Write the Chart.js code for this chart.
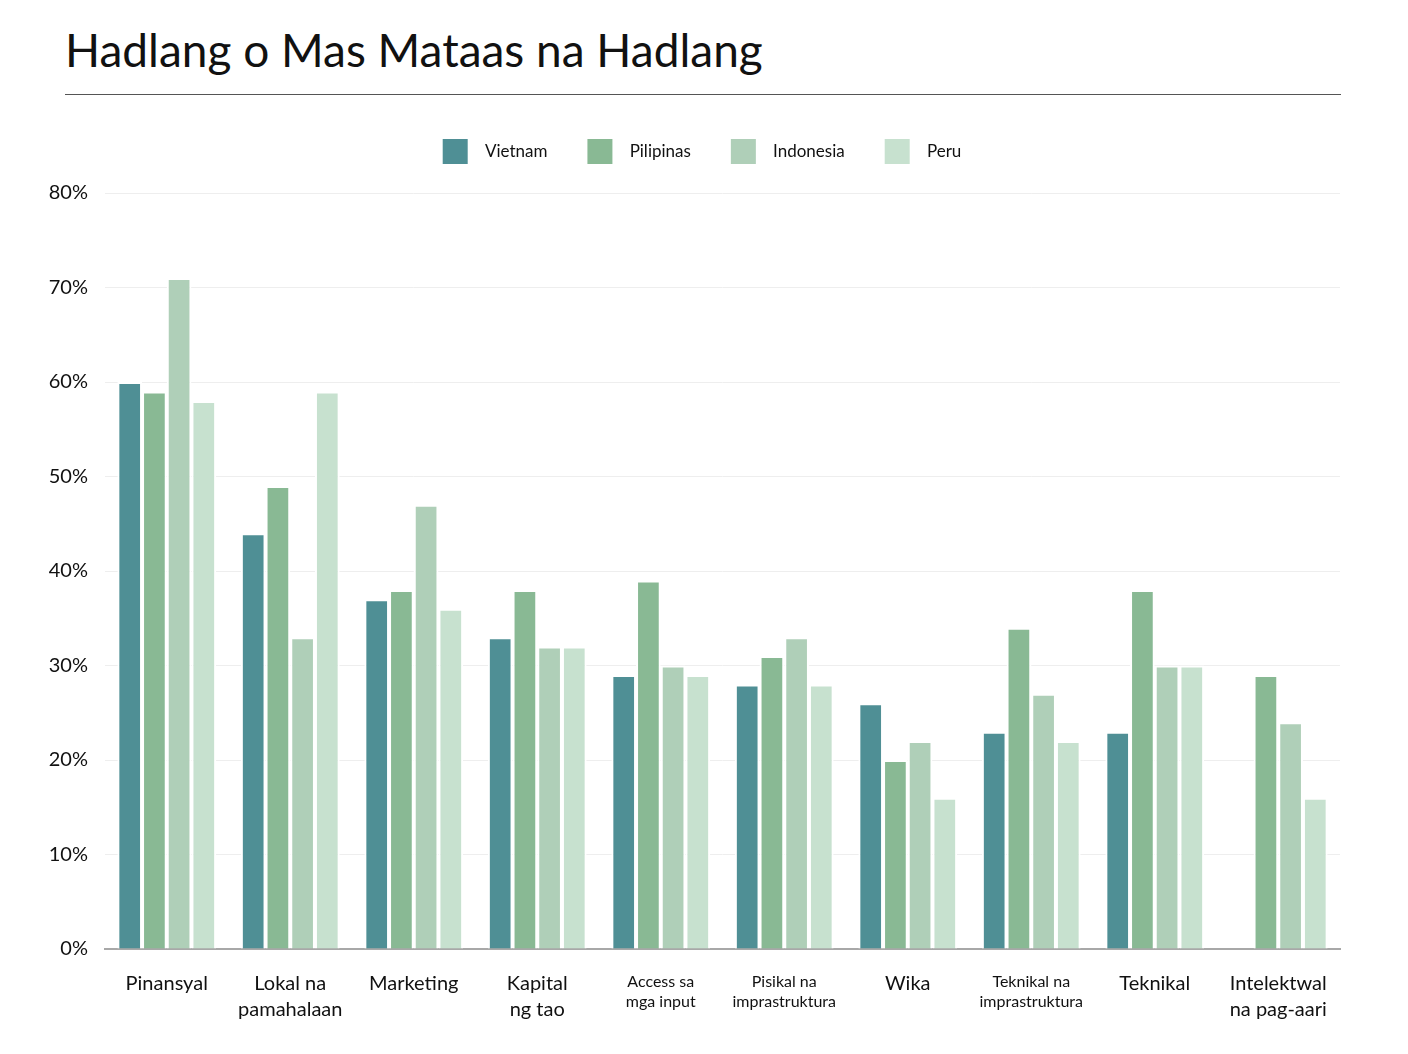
<!DOCTYPE html>
<html>
<head>
<meta charset="utf-8">
<script src="https://cdn.jsdelivr.net/npm/chart.js@4/dist/chart.umd.min.js"></script>
<style>
  html, body { margin:0; padding:0; background:#fff; width:1408px; height:1054px; overflow:hidden; }
  #title { position:absolute; left:65px; top:22px; font-family:Lato, "Noto Sans", sans-serif; font-size:46px; color:#111; white-space:nowrap; }
  #rule { position:absolute; left:65px; top:94px; width:1276px; height:1px; background:#555; }
  #wrap { position:absolute; left:0; top:98px; width:1408px; height:956px; }
</style>
</head>
<body>
<div id="title">Hadlang o Mas Mataas na Hadlang</div>
<div id="rule"></div>
<div id="wrap"><canvas id="c"></canvas></div>
<script>
const categories = [
  "Pinansyal",
  ["Lokal na", "pamahalaan"],
  "Marketing",
  ["Kapital", "ng tao"],
  ["Access sa", "mga input"],
  ["Pisikal na", "imprastruktura"],
  "Wika",
  ["Teknikal na", "imprastruktura"],
  "Teknikal",
  ["Intelektwal", "na pag-aari"]
];
const smallLabels = [4, 5, 7];
const seriesNames = ["Vietnam", "Pilipinas", "Indonesia", "Peru"];
const vietnam   = [60, 44, 37, 33, 29, 28, 26, 23, 23, null];
const pilipinas = [59, 49, 38, 38, 39, 31, 20, 34, 38, 29];
const indonesia = [71, 33, 47, 32, 30, 33, 22, 27, 30, 24];
const peru      = [58, 59, 36, 32, 29, 28, 16, 22, 30, 16];
const colors = ["#4F8F95", "#89B994", "#AFCFB8", "#C7E1CF"];
const yTicks = [0, 10, 20, 30, 40, 50, 60, 70, 80];

const FONT = 'Lato, "Noto Sans", sans-serif';
const allData = [vietnam, pilipinas, indonesia, peru];

const legendTweak = {
  id: 'legendTweak',
  beforeInit(chart) {
    const lg = chart.legend;
    const fit = lg.fit;
    lg.fit = function() {
      fit.call(this);
      this.height += 19;
    };
    const draw = lg.draw;
    lg.draw = function() {
      this.ctx.save();
      this.ctx.translate(32, 0);
      draw.call(this);
      this.ctx.restore();
    };
  }
};

new Chart(document.getElementById('c'), {
  type: 'bar',
  data: {
    labels: categories,
    datasets: seriesNames.map((n, i) => ({
      label: n,
      data: allData[i],
      backgroundColor: colors[i],
      borderColor: '#ffffff',
      borderWidth: 2,
      borderSkipped: 'bottom'
    }))
  },
  options: {
    responsive: true,
    maintainAspectRatio: false,
    animation: false,
    categoryPercentage: 0.8,
    barPercentage: 1.0,
    layout: { padding: { left: 0, right: 68, top: 1, bottom: 9 } },
    plugins: {
      legend: {
        position: 'top',
        labels: {
          boxWidth: 25,
          boxHeight: 25,
          padding: 40,
          color: '#111',
          font: { family: FONT, size: 17 },
          generateLabels: (chart) => chart.data.datasets.map((ds, i) => ({
            text: '  ' + ds.label,
            fillStyle: ds.backgroundColor,
            strokeStyle: ds.backgroundColor,
            lineWidth: 0,
            hidden: false,
            datasetIndex: i,
            fontColor: '#111'
          }))
        }
      },
      tooltip: { enabled: false }
    },
    scales: {
      x: {
        grid: { display: false, drawTicks: false },
        border: { display: true, color: '#a8a8a8', width: 2 },
        ticks: {
          color: '#111',
          padding: 22,
          maxRotation: 0,
          autoSkip: false,
          font: (ctx) => smallLabels.includes(ctx.index)
            ? { family: FONT, size: 16, lineHeight: 1.3 }
            : { family: FONT, size: 20, lineHeight: 1.3 }
        }
      },
      y: {
        min: 0, max: 80,
        afterFit: (s) => { s.width = 105; },
        afterBuildTicks: (s) => { s.ticks = yTicks.map(v => ({ value: v })); },
        grid: { color: '#eeeeee', lineWidth: 1, drawTicks: false },
        border: { display: false },
        ticks: {
          color: '#111',
          padding: 17,
          font: { family: FONT, size: 20 },
          callback: (v) => v + '%'
        }
      }
    }
  },
  plugins: [legendTweak]
});
</script>
</body>
</html>
